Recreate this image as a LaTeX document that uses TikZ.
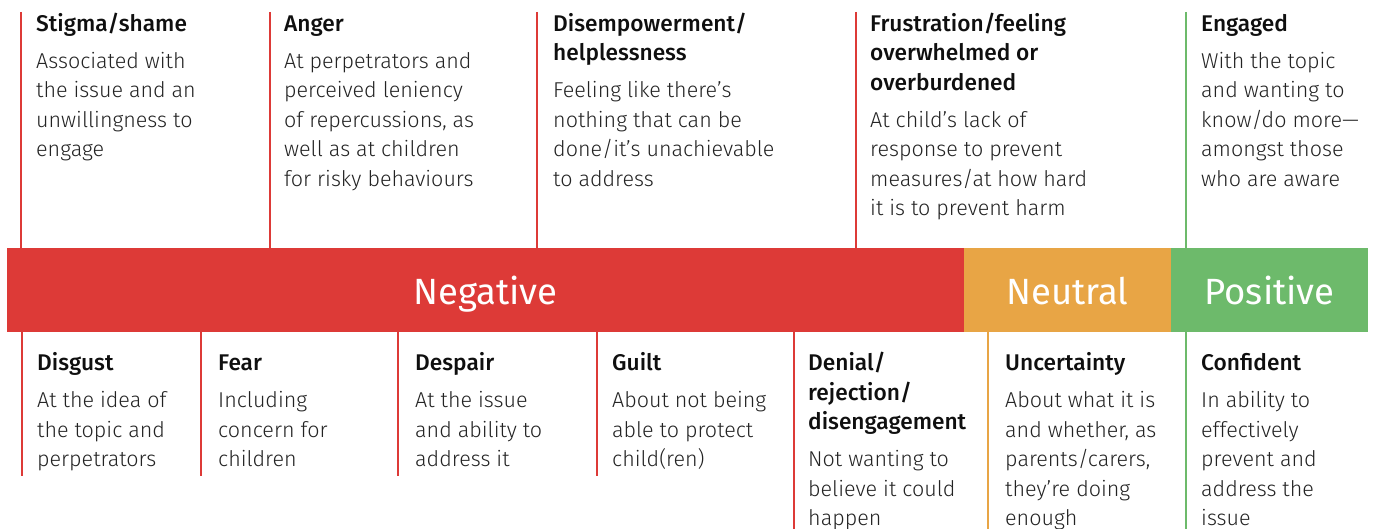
\documentclass[tikz,border=0pt]{standalone}
\usepackage{fontspec}
\setmainfont{Fira Sans Light}[BoldFont={Fira Sans Medium}]
\newfontfamily\bandfont{Fira Sans}
\definecolor{negred}{RGB}{221,58,55}
\definecolor{neuorange}{RGB}{232,165,69}
\definecolor{posgreen}{RGB}{109,186,107}
\definecolor{bodytext}{RGB}{35,35,35}
\definecolor{headtext}{RGB}{15,15,15}
\newcommand\ttl{\color{headtext}\bfseries\fontsize{22.7}{29.5}\selectfont}
\begin{document}
\begin{tikzpicture}[x=1pt,y=-1pt,
  rule/.style={line width=2.2pt},
  band/.style={inner sep=0pt, minimum height=83.5pt, text=white,
    text height=28.5pt, text depth=0pt,
    font=\bandfont\fontsize{36.5}{36.5}\selectfont},
  col/.style={anchor=north west, inner sep=0pt, align=left, text=bodytext,
    font=\fontsize{21.5}{29.5}\selectfont},
]
\useasboundingbox (0,0) rectangle (1375,529);

% colour band
\node[band, fill=negred, minimum width=957pt] (neg) at (485.5,289.75) {Negative};
\node[band, fill=neuorange, minimum width=207pt] (neu) at (1067.5,289.75) {Neutral};
\node[band, fill=posgreen, minimum width=197pt] (pos) at (1269.5,289.75) {Positive};

% rules above the band
\foreach \x in {21,270,537,856} \draw[rule, negred] (\x,12) -- (\x,248);
\draw[rule, posgreen] (1186,12) -- (1186,248);

% rules below the band
\foreach \x in {22,201,398,597} \draw[rule, negred] (\x,331.5) -- (\x,476);
\draw[rule, negred] (794,331.5) -- (794,529);
\draw[rule, neuorange] (988,331.5) -- (988,529);
\draw[rule, posgreen] (1186,331.5) -- (1186,529);

% emotions above the band
\node[col] (stigma) at (36,10.35) {\strut{\ttl Stigma/shame}\\[7.5pt]
  Associated with\\the issue and an\\unwillingness to\\engage};
\node[col] (anger) at (284,10.35) {\strut{\ttl Anger}\\[7.5pt]
  At perpetrators and\\perceived leniency\\of repercussions, as\\well as at children\\for risky behaviours};
\node[col] (disemp) at (553,10.35) {\strut{\ttl Disempowerment/}\\{\ttl helplessness}\\[7.5pt]
  Feeling like there’s\\nothing that can be\\done/it’s unachievable\\to address};
\node[col] (frust) at (870,10.35) {\strut{\ttl Frustration/feeling}\\{\ttl overwhelmed or}\\{\ttl overburdened}\\[7.5pt]
  At child’s lack of\\response to prevent\\measures/at how hard\\it is to prevent harm};
\node[col] (engaged) at (1201,10.35) {\strut{\ttl Engaged}\\[7.5pt]
  With the topic\\and wanting to\\know/do more—\\amongst those\\who are aware};

% emotions below the band
\node[col] (disgust) at (37,350) {\strut{\ttl Disgust}\\[7.5pt]
  At the idea of\\the topic and\\perpetrators};
\node[col] (fear) at (218,350) {\strut{\ttl Fear}\\[7.5pt]
  Including\\concern for\\children};
\node[col] (despair) at (415,350) {\strut{\ttl Despair}\\[7.5pt]
  At the issue\\and ability to\\address it};
\node[col] (guilt) at (612,350) {\strut{\ttl Guilt}\\[7.5pt]
  About not being\\able to protect\\child(ren)};
\node[col] (denial) at (808,350) {\strut{\ttl Denial/}\\{\ttl rejection/}\\{\ttl disengagement}\\[7.5pt]
  Not wanting to\\believe it could\\happen};
\node[col] (uncert) at (1005,350) {\strut{\ttl Uncertainty}\\[7.5pt]
  About what it is\\and whether, as\\parents/carers,\\they’re doing\\enough};
\node[col] (confid) at (1201,350) {\strut{\ttl Confident}\\[7.5pt]
  In ability to\\effectively\\prevent and\\address the\\issue};
\end{tikzpicture}
\end{document}
